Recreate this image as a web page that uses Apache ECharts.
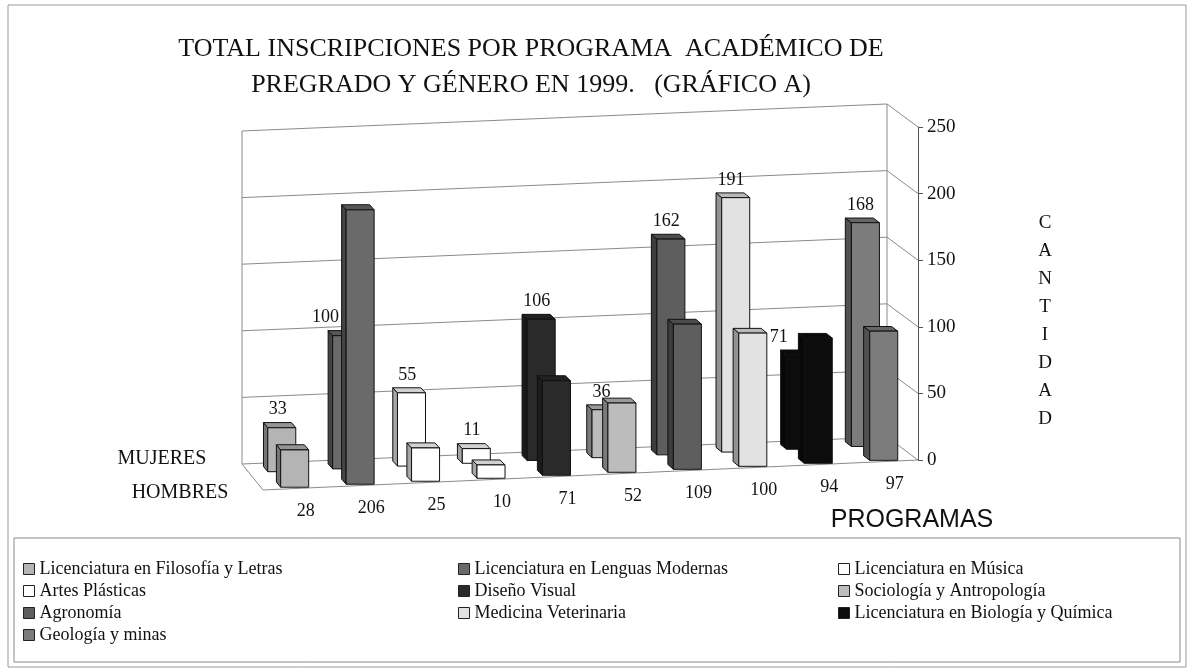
<!DOCTYPE html>
<html>
<head>
<meta charset="utf-8">
<script src="https://cdn.jsdelivr.net/npm/echarts@6/dist/echarts.min.js"></script>
<style>
html, body { margin: 0; padding: 0; background: #fff; }
#grafico { width: 1193px; height: 670px; }
</style>
</head>
<body>
<div id="grafico"></div>
<script>
// datos
var programas = [
  'Licenciatura en Filosofía y Letras',
  'Licenciatura en Lenguas Modernas',
  'Licenciatura en Música',
  'Artes Plásticas',
  'Diseño Visual',
  'Sociología y Antropología',
  'Agronomía',
  'Medicina Veterinaria',
  'Licenciatura en Biología y Química',
  'Geología y minas'
];
var mujeres = [33, 100, 55, 11, 106, 36, 162, 191, 71, 168];
var hombres = [28, 206, 25, 10, 71, 52, 109, 100, 94, 97];
var ticksY = [0, 50, 100, 150, 200, 250];
var filas = ['MUJERES', 'HOMBRES'];

// tonos de gris de cada programa
var colores = ['#b4b4b4', '#6a6a6a', '#ffffff', '#ffffff', '#2a2a2a',
               '#bcbcbc', '#5e5e5e', '#e2e2e2', '#0c0c0c', '#7c7c7c'];

var serif = '"Liberation Serif", "Times New Roman", serif';

function oscurecer(hex, f) {
  var n = parseInt(hex.slice(1), 16);
  var r = (n >> 16) & 255, g = (n >> 8) & 255, b = n & 255;
  return 'rgb(' + Math.round(r * f) + ',' + Math.round(g * f) + ',' + Math.round(b * f) + ')';
}

// punto en la "caja" 3D: u = posición en categorías, v = valor, d = profundidad (0 frente, 1 fondo)
function proyectar(api, u, v, d) {
  var banda = api.size([1, 0])[0];
  var p = api.coord([0, v]);
  var n = programas.length;
  var x = p[0] + (u - 0.5) * banda;
  var y = p[1] + 30 * (1 - u / n);   // el piso baja hacia la izquierda
  var dx = -21 - u, dy = -26 + 0.3 * u;
  return [x + d * dx, y + d * dy];
}

function dibujarFondo(params, api) {
  var v = api.value(1);
  var n = programas.length;
  var hijos = [];
  var linea = { stroke: '#8a8a8a', lineWidth: 1, fill: null };
  hijos.push({
    type: 'polyline',
    shape: { points: [proyectar(api, 0, v, 1), proyectar(api, n, v, 1), proyectar(api, n, v, 0)] },
    style: linea
  });
  if (params.dataIndex === 0) {
    hijos.push({
      type: 'polyline',
      shape: { points: [proyectar(api, 0, v, 1), proyectar(api, 0, v, 0), proyectar(api, n, v, 0)] },
      style: linea
    });
  }
  if (params.dataIndex === ticksY.length - 1) {
    var max = ticksY[ticksY.length - 1];
    hijos.push({ type: 'line', shape: { x1: proyectar(api, 0, 0, 1)[0], y1: proyectar(api, 0, 0, 1)[1], x2: proyectar(api, 0, max, 1)[0], y2: proyectar(api, 0, max, 1)[1] }, style: linea });
    hijos.push({ type: 'line', shape: { x1: proyectar(api, n, 0, 1)[0], y1: proyectar(api, n, 0, 1)[1], x2: proyectar(api, n, max, 1)[0], y2: proyectar(api, n, max, 1)[1] }, style: linea });
  }
  return { type: 'group', children: hijos };
}

var PROF_ATRAS = 0.65, PROF_ADELANTE = 0.05;

function dibujarBarra(params, api) {
  var i = api.value(0), v = api.value(1), fila = api.value(2);
  var d0 = fila === 0 ? PROF_ATRAS : PROF_ADELANTE;   // mujeres atrás, hombres adelante
  var d1 = d0 + 0.2;
  var u = i + 0.5;
  var base = proyectar(api, u, 0, d0);
  var tope = proyectar(api, u, v, d0);
  var fondo = proyectar(api, u, 0, d1);
  var ddx = fondo[0] - base[0], ddy = fondo[1] - base[1];
  var w = 28, h = w / 2;
  var color = colores[i];
  var borde = { stroke: '#111', lineWidth: 1 };
  var xl = base[0] - h, xr = base[0] + h;
  var hijos = [
    { type: 'polygon', shape: { points: [[xl, base[1]], [xl, tope[1]], [xl + ddx, tope[1] + ddy], [xl + ddx, base[1] + ddy]] },
      style: Object.assign({ fill: oscurecer(color, 0.65) }, borde) },
    { type: 'polygon', shape: { points: [[xl, tope[1]], [xr, tope[1]], [xr + ddx, tope[1] + ddy], [xl + ddx, tope[1] + ddy]] },
      style: Object.assign({ fill: oscurecer(color, 0.82) }, borde) },
    { type: 'rect', shape: { x: xl, y: tope[1], width: w, height: base[1] - tope[1] },
      style: Object.assign({ fill: color }, borde) }
  ];
  var etiqueta;
  if (fila === 0) {
    etiqueta = { x: base[0] + ddx / 2 - 2, y: tope[1] + ddy - 13 };
    // si la barra de adelante tapa la etiqueta, correrla a la izquierda
    var topeFrente = proyectar(api, u, hombres[i], PROF_ADELANTE);
    if (topeFrente[1] < etiqueta.y + 10) etiqueta.x -= 17;
  } else {
    var borde0 = proyectar(api, u, 0, 0);
    etiqueta = { x: base[0] + 11, y: borde0[1] + 23 };
  }
  hijos.push({
    type: 'text', x: etiqueta.x, y: etiqueta.y, z2: 100,
    style: { text: String(v), font: '18px ' + serif, fill: '#111', align: 'center', verticalAlign: 'middle' }
  });
  return { type: 'group', children: hijos };
}

var series = [{
  type: 'custom', name: 'fondo', silent: true, clip: false, z: 1,
  renderItem: dibujarFondo,
  data: ticksY.map(function (t) { return [0, t]; })
}];
programas.forEach(function (p, i) {
  series.push({
    type: 'custom', name: p, clip: false, z: 2,
    itemStyle: { color: colores[i] },
    renderItem: dibujarBarra,
    data: [[i, mujeres[i], 0], [i, hombres[i], 1]]
  });
});

var estiloLeyenda = {
  orient: 'vertical', top: 555, itemGap: 4, itemWidth: 11, itemHeight: 11,
  icon: 'rect', selectedMode: false,
  itemStyle: { borderColor: '#222', borderWidth: 1 },
  textStyle: { fontFamily: serif, fontSize: 18, color: '#111', lineHeight: 17 }
};
function leyenda(left, idx) {
  return Object.assign({}, estiloLeyenda, { left: left, data: idx.map(function (k) { return programas[k]; }) });
}

var chart = echarts.init(document.getElementById('grafico'));
chart.setOption({
  backgroundColor: '#fff',
  animation: false,
  title: {
    text: 'TOTAL INSCRIPCIONES POR PROGRAMA  ACADÉMICO DE\nPREGRADO Y GÉNERO EN 1999.   (GRÁFICO A)',
    left: 526, top: 26, textAlign: 'center',
    textStyle: { fontFamily: serif, fontSize: 26, fontWeight: 'normal', color: '#111', lineHeight: 36 }
  },
  legend: [leyenda(18, [0, 3, 6, 9]), leyenda(453, [1, 4, 7]), leyenda(833, [2, 5, 8])],
  grid: { left: 263, right: 275, top: 127, bottom: 210 },
  xAxis: {
    type: 'category', data: programas,
    axisLine: { show: false }, axisTick: { show: false }, axisLabel: { show: false }, splitLine: { show: false }
  },
  yAxis: {
    type: 'value', position: 'right', min: 0, max: 250, interval: 50,
    axisLine: { show: true, lineStyle: { color: '#555' } },
    axisTick: { show: true, length: 5, lineStyle: { color: '#555' } },
    axisLabel: { fontFamily: serif, fontSize: 19, color: '#111', margin: 9 },
    splitLine: { show: false }
  },
  graphic: [
    { type: 'rect', shape: { x: 8, y: 5, width: 1178, height: 662 }, style: { fill: null, stroke: '#9a9a9a', lineWidth: 1 }, silent: true },
    { type: 'rect', shape: { x: 14, y: 538, width: 1166, height: 124 }, style: { fill: null, stroke: '#888', lineWidth: 1 }, silent: true },
    { type: 'text', x: 1045, y: 209, style: { text: 'C\nA\nN\nT\nI\nD\nA\nD', font: '19px ' + serif, fill: '#111', align: 'center', lineHeight: 28 } },
    { type: 'text', x: 912, y: 520, style: { text: 'PROGRAMAS', font: '25px "Liberation Sans", Arial, sans-serif', fill: '#111', align: 'center', verticalAlign: 'middle' } },
    { type: 'text', x: 162, y: 459, style: { text: filas[0], font: '20px ' + serif, fill: '#111', align: 'center', verticalAlign: 'middle' } },
    { type: 'text', x: 180, y: 493, style: { text: filas[1], font: '20px ' + serif, fill: '#111', align: 'center', verticalAlign: 'middle' } }
  ],
  series: series
});
</script>
</body>
</html>
